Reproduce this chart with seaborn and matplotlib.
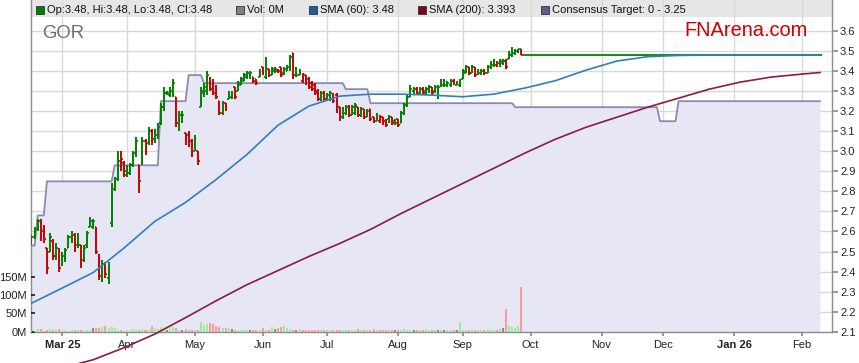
import matplotlib
matplotlib.use("Agg")
import matplotlib.pyplot as plt
from matplotlib.patches import Rectangle
import seaborn as sns
import pandas as pd
import numpy as np

sns.set_theme(style="white")
plt.rcParams["font.family"] = ["Liberation Sans", "DejaVu Sans"]

# ---- data -------------------------------------------------------------
ticker = "GOR"
first_session = "2025-02-17"
chart_end = "2026-02-10"       # chart carries the last price forward to here
last_price = 3.48

opens = [2.55, 2.57, 2.61, 2.65, 2.60, 2.52, 2.50, 2.55, 2.48, 2.51,
         2.44, 2.46, 2.52, 2.57, 2.58, 2.53, 2.53, 2.46, 2.53, 2.62,
         2.62, 2.62, 2.48, 2.38, 2.44, 2.37, 2.64, 2.81, 2.86, 2.95,
         2.94, 2.90, 2.89, 2.93, 3.00, 2.93, 2.94, 3.05, 3.04, 3.10,
         3.06, 3.08, 3.14, 3.22, 3.29, 3.28, 3.29, 3.27, 3.12, 3.16,
         3.09, 3.08, 3.05, 3.00, 3.00, 3.22, 3.29, 3.30, 3.36, 3.33,
         3.31, 3.25, 3.19, 3.24, 3.26, 3.27, 3.32, 3.30, 3.33, 3.35,
         3.37, 3.38, 3.37, 3.36, 3.37, 3.42, 3.37, 3.41, 3.38, 3.40,
         3.40, 3.42, 3.39, 3.40, 3.41, 3.49, 3.41, 3.38, 3.35, 3.38,
         3.36, 3.34, 3.33, 3.30, 3.26, 3.29, 3.26, 3.26, 3.28, 3.28,
         3.22, 3.17, 3.19, 3.22, 3.18, 3.19, 3.22, 3.18, 3.21, 3.17,
         3.21, 3.17, 3.15, 3.15, 3.17, 3.15, 3.16, 3.17, 3.15,
         3.16, 3.14, 3.19, 3.23, 3.27, 3.30, 3.31, 3.29, 3.31, 3.30,
         3.31, 3.32, 3.30, 3.27, 3.35, 3.34, 3.33, 3.33, 3.35, 3.33,
         3.33, 3.36, 3.39, 3.42, 3.39, 3.42, 3.40, 3.39, 3.40, 3.39,
         3.42, 3.43, 3.43, 3.44, 3.44, 3.45, 3.46, 3.48, 3.49, 3.50,
         3.51]
highs = [2.58, 2.62, 2.66, 2.66, 2.63, 2.52, 2.59, 2.56, 2.54, 2.52,
         2.50, 2.52, 2.58, 2.60, 2.59, 2.59, 2.53, 2.53, 2.60, 2.67,
         2.66, 2.62, 2.49, 2.46, 2.45, 2.45, 2.84, 2.87, 3.00, 3.00,
         2.95, 2.93, 2.94, 3.00, 3.07, 2.93, 3.07, 3.06, 3.12, 3.11,
         3.11, 3.14, 3.24, 3.32, 3.30, 3.32, 3.36, 3.27, 3.20, 3.20,
         3.09, 3.10, 3.06, 3.08, 3.00, 3.32, 3.34, 3.40, 3.37, 3.36,
         3.33, 3.25, 3.25, 3.24, 3.30, 3.30, 3.32, 3.35, 3.37, 3.39,
         3.40, 3.40, 3.37, 3.36, 3.41, 3.42, 3.47, 3.41, 3.42, 3.42,
         3.41, 3.42, 3.42, 3.43, 3.48, 3.49, 3.42, 3.41, 3.39, 3.38,
         3.37, 3.35, 3.34, 3.31, 3.30, 3.30, 3.29, 3.30, 3.29, 3.29,
         3.22, 3.22, 3.23, 3.23, 3.23, 3.24, 3.22, 3.22, 3.21, 3.21,
         3.21, 3.17, 3.19, 3.18, 3.17, 3.16, 3.18, 3.17, 3.16,
         3.16, 3.20, 3.24, 3.28, 3.33, 3.32, 3.32, 3.32, 3.32, 3.32,
         3.33, 3.32, 3.33, 3.33, 3.36, 3.36, 3.35, 3.36, 3.36, 3.35,
         3.36, 3.41, 3.43, 3.42, 3.43, 3.42, 3.41, 3.41, 3.41, 3.43,
         3.45, 3.46, 3.45, 3.46, 3.46, 3.46, 3.50, 3.52, 3.51, 3.51,
         3.51]
lows = [2.53, 2.56, 2.60, 2.55, 2.54, 2.39, 2.50, 2.46, 2.46, 2.40,
        2.43, 2.45, 2.52, 2.54, 2.50, 2.52, 2.42, 2.45, 2.52, 2.62,
        2.61, 2.49, 2.36, 2.35, 2.37, 2.34, 2.62, 2.80, 2.85, 2.90,
        2.87, 2.87, 2.88, 2.92, 2.97, 2.79, 2.93, 2.98, 3.03, 3.03,
        3.04, 3.06, 3.13, 3.20, 3.28, 3.27, 3.27, 3.12, 3.10, 3.14,
        3.03, 3.02, 2.97, 3.00, 2.93, 3.22, 3.27, 3.28, 3.30, 3.28,
        3.26, 3.18, 3.18, 3.20, 3.26, 3.26, 3.26, 3.30, 3.33, 3.35,
        3.36, 3.36, 3.34, 3.33, 3.37, 3.38, 3.36, 3.37, 3.38, 3.39,
        3.39, 3.37, 3.38, 3.40, 3.40, 3.36, 3.37, 3.38, 3.34, 3.33,
        3.31, 3.30, 3.28, 3.25, 3.25, 3.25, 3.25, 3.25, 3.24, 3.19,
        3.15, 3.16, 3.18, 3.17, 3.18, 3.18, 3.17, 3.17, 3.16, 3.17,
        3.15, 3.14, 3.15, 3.14, 3.13, 3.12, 3.14, 3.13, 3.13,
        3.12, 3.14, 3.18, 3.22, 3.27, 3.28, 3.28, 3.28, 3.28, 3.28,
        3.29, 3.28, 3.29, 3.26, 3.32, 3.32, 3.32, 3.32, 3.33, 3.33,
        3.32, 3.36, 3.39, 3.38, 3.39, 3.37, 3.38, 3.38, 3.38, 3.39,
        3.41, 3.42, 3.42, 3.42, 3.43, 3.41, 3.46, 3.47, 3.48, 3.49,
        3.48]
closes = [2.57, 2.61, 2.65, 2.57, 2.56, 2.42, 2.57, 2.48, 2.52, 2.42,
          2.48, 2.51, 2.57, 2.58, 2.52, 2.57, 2.45, 2.52, 2.59, 2.65,
          2.65, 2.50, 2.38, 2.44, 2.39, 2.44, 2.80, 2.85, 2.98, 2.96,
          2.88, 2.89, 2.93, 2.99, 3.05, 2.85, 3.05, 3.00, 3.10, 3.05,
          3.10, 3.12, 3.22, 3.29, 3.29, 3.30, 3.34, 3.14, 3.18, 3.18,
          3.04, 3.03, 2.99, 3.06, 2.95, 3.30, 3.32, 3.38, 3.31, 3.29,
          3.27, 3.19, 3.24, 3.21, 3.29, 3.29, 3.27, 3.34, 3.36, 3.38,
          3.39, 3.39, 3.35, 3.34, 3.40, 3.39, 3.44, 3.38, 3.41, 3.41,
          3.40, 3.38, 3.41, 3.42, 3.47, 3.38, 3.38, 3.40, 3.38, 3.34,
          3.32, 3.31, 3.29, 3.26, 3.29, 3.26, 3.28, 3.29, 3.25, 3.20,
          3.17, 3.21, 3.22, 3.18, 3.22, 3.23, 3.18, 3.21, 3.17, 3.20,
          3.16, 3.15, 3.18, 3.17, 3.14, 3.13, 3.17, 3.14, 3.14,
          3.13, 3.19, 3.23, 3.27, 3.31, 3.31, 3.29, 3.31, 3.29, 3.31,
          3.32, 3.29, 3.32, 3.32, 3.33, 3.33, 3.34, 3.35, 3.34, 3.34,
          3.35, 3.40, 3.42, 3.39, 3.42, 3.38, 3.39, 3.40, 3.39, 3.42,
          3.44, 3.45, 3.44, 3.45, 3.45, 3.42, 3.48, 3.49, 3.50, 3.51,
          3.48]
# volume in millions of shares
volumes = [3, 5, 7, 8, 3, 6, 8, 4, 6, 7,
           5, 4, 3, 4, 5, 4, 4, 3, 5, 6,
           9, 10, 11, 13, 15, 9, 14, 10, 6, 4,
           3, 4, 6, 7, 6, 5, 8, 6, 5, 16,
           11, 8, 13, 6, 5, 8, 12, 9, 6, 5,
           7, 6, 5, 4, 6, 27, 17, 22, 25, 20,
           16, 13, 11, 9, 9, 7, 5, 6, 5, 4,
           6, 6, 5, 6, 5, 9, 6, 5, 12, 7,
           10, 13, 16, 11, 8, 6, 5, 8, 6, 5,
           5, 4, 6, 5, 5, 4, 6, 5, 5, 4,
           5, 6, 5, 6, 4, 5, 7, 6, 5, 4,
           5, 7, 6, 4, 6, 5, 4, 5, 6,
           5, 6, 7, 5, 6, 5, 6, 4, 5, 8,
           5, 4, 6, 5, 4, 5, 4, 6, 5, 6,
           27, 5, 4, 6, 5, 4, 6, 5, 4, 7,
           5, 6, 5, 7, 9, 62, 15, 12, 9, 16,
           123]

# moving averages read every 10 sessions (last point = chart end)
sma_step = 10
sma60 = [2.242, 2.318, 2.395, 2.517, 2.65, 2.745, 2.86, 2.985, 3.13, 3.225,
         3.275, 3.285, 3.285, 3.28, 3.272, 3.285, 3.315, 3.352, 3.405, 3.45,
         3.472, 3.478, 3.48, 3.48, 3.48, 3.48, 3.48]
sma200 = [1.88, 1.92, 1.96, 2.02, 2.088, 2.17, 2.255, 2.335, 2.405, 2.475,
          2.54, 2.61, 2.69, 2.765, 2.84, 2.915, 2.99, 3.06, 3.12, 3.17,
          3.22, 3.265, 3.31, 3.345, 3.37, 3.385, 3.393]

# consensus target changes
cons_dates = ["2025-02-17", "2025-02-19", "2025-02-24", "2025-03-26", "2025-04-16",
              "2025-04-29", "2025-05-06", "2025-07-09", "2025-07-21", "2025-09-24",
              "2025-11-28", "2025-12-08"]
cons_vals = [2.53, 2.68, 2.85, 2.93, 3.25, 3.38, 3.34, 3.31, 3.24, 3.22, 3.15, 3.25]

# ---- prep -------------------------------------------------------------
dates = pd.bdate_range(first_session, chart_end)
n = len(closes)
x = np.arange(n)
prev = np.r_[opens[0], closes[:-1]]
up = np.array(closes) >= prev
flat = np.array(closes) == prev
bar_col = np.where(up, "#008000", "#cc0000")
vol_col = np.where(flat, "#8c8c8c", np.where(up, "#99ee99", "#ff9a9a"))

sma_x = list(range(0, len(dates), sma_step))
if sma_x[-1] != len(dates) - 1:
    sma_x.append(len(dates) - 1)

cons = pd.Series(np.nan, index=dates)
cons.loc[pd.to_datetime(cons_dates)] = cons_vals
cons = cons.ffill()

month_pos, month_lab = [], []
for i, d in enumerate(dates):
    if i > 0 and d.month != dates[i - 1].month:
        month_pos.append(i)
        month_lab.append(d.strftime("%b %y") if (d.month == 1 or not month_lab) else d.strftime("%b"))

# ---- figure -------------------------------------------------------------
W, H = 859, 363
fig = plt.figure(figsize=(W / 100, H / 100), dpi=100)
fig.patch.set_facecolor("white")
left, right, bottom = 31, 831.7, 331.7
ax_bg = fig.add_axes([left / W, (H - bottom) / H, (right - left) / W, bottom / H])
ax_vol = ax_bg.twinx()
ax = ax_bg.twinx()
ax_vol.set_zorder(1)
ax.set_zorder(2)

ymin, ymax = 2.1, 3.6 + 31 / 200.5
xlim = (-0.16, 259.7)
for a in (ax_bg, ax):
    a.set_ylim(ymin, ymax)
    a.set_xlim(*xlim)
ax_vol.set_ylim(0, bottom / 18.3 * 50)

# header band, grid and consensus shading
ax_bg.add_patch(Rectangle((0, 1 - 17 / bottom), 1, 17 / bottom, transform=ax_bg.transAxes,
                          facecolor="#e6e6e6", edgecolor="none", zorder=0.2))
ax_bg.set_axisbelow(True)
ax_bg.set_yticks(np.round(np.arange(2.1, 3.61, 0.1), 1))
ax_bg.set_xticks(month_pos)
ax_bg.grid(True, color="#d9d9d9", lw=1)
ax_bg.fill_between(np.arange(len(dates)), cons.values, 0, color="#e6e6f5", lw=0, zorder=1)
ax_bg.plot(np.arange(len(dates)), cons.values, color="#8080aa", lw=1.3, alpha=0.9, zorder=2)

# volume
ax_vol.bar(x, volumes, width=0.65, color=vol_col, lw=0)
ax_vol.set_yticks([0, 50, 100, 150])
ax_vol.set_yticklabels(["0M", "50M", "100M", "150M"])
ax_vol.yaxis.tick_left()

# price bars
ax.vlines(x, lows, highs, colors=bar_col, lw=1.4)
ax.hlines(opens, x - 0.55, x, colors=bar_col, lw=1.2)
ax.hlines(closes, x, x + 0.55, colors=bar_col, lw=1.2)
ax.hlines(last_price, n - 1 + 0.5, len(dates) - 1 + 0.5, colors="#008000", lw=1.3)

sns.lineplot(x=sma_x, y=sma60, ax=ax, color="#2f7fc1", lw=1.2)
sns.lineplot(x=sma_x, y=sma200, ax=ax, color="#8b1c40", lw=1.2)
ax.lines[-1].set_clip_on(False)

ax.set_yticks(np.round(np.arange(2.1, 3.61, 0.1), 1))
ax.set_yticklabels([f"{v:.1f}" for v in np.arange(2.1, 3.61, 0.1)])
ax.set_xlabel("")
ax.set_ylabel("")

# axes cosmetics
for a in (ax_vol, ax):
    for s in a.spines.values():
        s.set_visible(False)
for side in ("left", "right", "bottom"):
    ax_bg.spines[side].set_color("#8c8c8c")
    ax_bg.spines[side].set_linewidth(1)
ax_bg.spines["top"].set_visible(False)
ax_bg.tick_params(axis="y", left=False, right=False, labelleft=False, labelright=False)
ax_bg.tick_params(axis="x", bottom=True, direction="out", length=3, color="#8c8c8c",
                  labelsize=8, pad=3, labelcolor="#222222")
ax_bg.set_xticklabels(month_lab)
for t in ax_bg.get_xticklabels():
    if " " in t.get_text():
        t.set_fontweight("bold")
ax.tick_params(axis="y", right=True, direction="out", length=4, color="#8c8c8c",
               labelsize=8, pad=2, labelcolor="#222222")
ax_vol.tick_params(axis="y", left=True, right=False, direction="in", length=3, color="#222222",
                   labelsize=8, pad=3, labelcolor="#222222")

# header legend
def px(xp, yp):
    return xp / W, 1 - yp / H

legend = [("#008000", f"Op:{last_price:.2f}, Hi:{last_price:.2f}, Lo:{last_price:.2f}, Cl:{last_price:.2f}", 36),
          ("#808080", "Vol: 0M", 236),
          ("#1f5f9f", f"SMA (60): {sma60[-1]:.2f}", 309),
          ("#800020", f"SMA (200): {sma200[-1]:.3f}", 418),
          ("#5c5c8a", f"Consensus Target: 0 - {cons_vals[-1]:.2f}", 541)]
for col, txt, xp in legend:
    x0, y0 = px(xp, 14)
    fig.patches.append(Rectangle((x0, y0), 8 / W, 8 / H, transform=fig.transFigure,
                                 facecolor=col, edgecolor="#333333", lw=0.6))
    fig.text(*px(xp + 11, 10), txt, fontsize=8, va="center", ha="left", color="#111111")

fig.text(*px(42, 33), ticker, fontsize=13.3, va="center", ha="left", color="#6e6e6e")
fig.text(*px(808, 31), "FNArena.com", fontsize=14.4, va="center", ha="right", color="#cc0000")

fig.savefig("out.png", dpi=100, facecolor="white")
